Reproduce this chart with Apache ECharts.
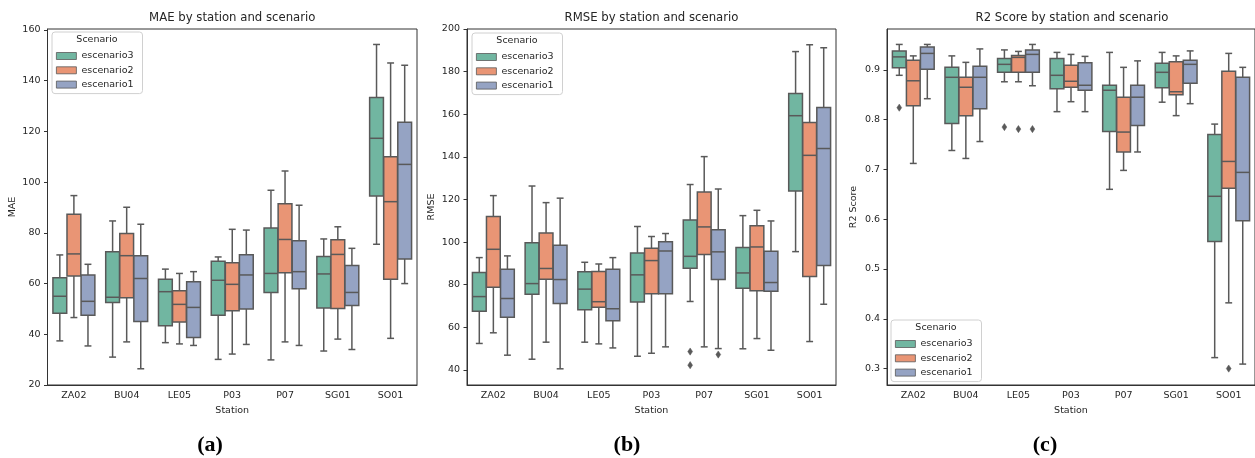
<!DOCTYPE html>
<html>
<head>
<meta charset="utf-8">
<script src="https://cdn.jsdelivr.net/npm/echarts@6/dist/echarts.min.js"></script>
<style>
  html, body { margin: 0; padding: 0; background: #fff; }
  #main { width: 1255px; height: 458px; }
</style>
</head>
<body>
<div id="main"></div>
<script>
// estaciones y escenarios
const stations = ['ZA02', 'BU04', 'LE05', 'P03', 'P07', 'SG01', 'SO01']
const scenarios = ['escenario3', 'escenario2', 'escenario1']

// [min whisker, Q1, mediana, Q3, max whisker] por estacion
const maeEsc3 = [
  [37.4, 48.3, 55.0, 62.3, 71.3],
  [31.0, 52.5, 54.6, 72.6, 84.7],
  [36.7, 43.4, 56.8, 61.7, 65.7],
  [30.1, 47.5, 61.3, 68.8, 70.5],
  [29.9, 56.5, 64.0, 81.9, 96.8],
  [33.4, 50.4, 63.8, 70.7, 77.6],
  [75.5, 94.5, 117.3, 133.4, 154.3]
]
const maeEsc2 = [
  [46.6, 63.0, 71.7, 87.3, 94.7],
  [37.0, 54.4, 71.0, 79.7, 90.1],
  [36.2, 44.8, 51.8, 57.2, 64.0],
  [32.2, 49.3, 59.7, 68.2, 81.4],
  [37.0, 64.3, 77.4, 91.5, 104.4],
  [38.1, 50.2, 71.5, 77.3, 82.4],
  [38.4, 61.7, 92.3, 110.0, 147.0]
]
const maeEsc1 = [
  [35.4, 47.5, 53.0, 63.4, 67.6],
  [26.4, 45.0, 62.0, 71.0, 83.4],
  [35.6, 38.7, 50.6, 60.7, 64.7],
  [36.0, 50.0, 63.4, 71.4, 81.1],
  [35.6, 58.0, 64.7, 76.9, 90.9],
  [34.0, 51.4, 56.5, 67.1, 73.9],
  [60.0, 69.7, 107.0, 123.6, 146.1]
]

const rmseEsc3 = [
  [52.4, 67.5, 74.4, 85.7, 92.7],
  [45.0, 75.5, 80.5, 99.7, 126.3],
  [53.0, 68.2, 77.9, 86.1, 90.5],
  [46.4, 71.9, 84.6, 94.9, 107.3],
  [72.1, 87.7, 93.3, 110.4, 127.0],
  [49.9, 78.3, 85.5, 97.4, 112.4],
  [95.5, 124.0, 159.3, 169.7, 189.4]
]
const rmseEsc2 = [
  [57.4, 78.8, 96.6, 112.0, 121.8],
  [53.0, 82.5, 87.6, 104.3, 118.5],
  [52.2, 69.4, 72.0, 86.2, 89.7],
  [47.8, 75.7, 91.3, 97.1, 102.6],
  [50.8, 94.1, 107.1, 123.5, 140.1],
  [54.7, 77.1, 97.7, 107.7, 114.9],
  [53.3, 83.8, 140.7, 156.1, 192.6]
]
const rmseEsc1 = [
  [46.9, 64.7, 73.5, 87.2, 93.5],
  [40.5, 71.1, 82.4, 98.5, 120.6],
  [50.3, 63.0, 68.7, 87.2, 92.7],
  [50.8, 75.7, 95.8, 100.1, 104.0],
  [50.0, 82.4, 95.4, 105.8, 124.9],
  [49.2, 76.9, 81.0, 95.7, 109.9],
  [70.8, 89.0, 143.9, 163.1, 191.2]
]

const r2Esc3 = [
  [0.889, 0.904, 0.926, 0.938, 0.951],
  [0.738, 0.792, 0.885, 0.905, 0.928],
  [0.876, 0.895, 0.911, 0.923, 0.940],
  [0.816, 0.862, 0.889, 0.923, 0.935],
  [0.660, 0.776, 0.859, 0.869, 0.935],
  [0.835, 0.864, 0.895, 0.913, 0.935],
  [0.322, 0.555, 0.646, 0.770, 0.791]
]
const r2Esc2 = [
  [0.712, 0.828, 0.878, 0.919, 0.928],
  [0.722, 0.808, 0.865, 0.885, 0.915],
  [0.876, 0.895, 0.925, 0.929, 0.937],
  [0.836, 0.865, 0.877, 0.909, 0.931],
  [0.698, 0.735, 0.775, 0.845, 0.905],
  [0.808, 0.850, 0.856, 0.916, 0.928],
  [0.432, 0.662, 0.716, 0.897, 0.933]
]
const r2Esc1 = [
  [0.842, 0.901, 0.933, 0.946, 0.951],
  [0.756, 0.822, 0.885, 0.907, 0.942],
  [0.868, 0.895, 0.931, 0.940, 0.951],
  [0.816, 0.859, 0.869, 0.914, 0.927],
  [0.735, 0.788, 0.845, 0.869, 0.918],
  [0.832, 0.873, 0.911, 0.919, 0.938],
  [0.309, 0.597, 0.694, 0.885, 0.905]
]

// outliers: [indice estacion, valor]
const maeOut3 = []
const maeOut2 = []
const maeOut1 = []
const rmseOut3 = [[4, 48.6], [4, 42.2]]
const rmseOut2 = []
const rmseOut1 = [[4, 47.2]]
const r2Out3 = [[0, 0.824], [2, 0.785]]
const r2Out2 = [[2, 0.781], [6, 0.300]]
const r2Out1 = [[2, 0.781]]

const colors = ['#71b6a1', '#e99575', '#95a3c3']
const gray = '#595959'
const font = 'DejaVu Sans'

const panels = [
  {
    title: 'MAE by station and scenario', yName: 'MAE', min: 20, max: 160.4, splitNumber: 7,
    boxes: [maeEsc3, maeEsc2, maeEsc1], outs: [maeOut3, maeOut2, maeOut1],
    grid: { left: 47.5, top: 29, width: 369.5, height: 356 }, nameGap: 30,
    showMin: true, showMax: false,
    legend: { left: 52, top: 32 }, label: 'a', labelX: 210
  },
  {
    title: 'RMSE by station and scenario', yName: 'RMSE', min: 32.9, max: 200, splitNumber: 8,
    boxes: [rmseEsc3, rmseEsc2, rmseEsc1], outs: [rmseOut3, rmseOut2, rmseOut1],
    grid: { left: 467, top: 29, width: 369, height: 356 }, nameGap: 30,
    showMin: false, showMax: true,
    legend: { left: 472, top: 33 }, label: 'b', labelX: 627
  },
  {
    title: 'R2 Score by station and scenario', yName: 'R2 Score', min: 0.267, max: 0.982, splitNumber: 7,
    boxes: [r2Esc3, r2Esc2, r2Esc1], outs: [r2Out3, r2Out2, r2Out1],
    grid: { left: 887, top: 29, width: 370, height: 356 }, nameGap: 28,
    showMin: false, showMax: false,
    legend: { left: 891, top: 320 }, label: 'c', labelX: 1045
  }
]

// caja estilo seaborn
function boxRender (hue) {
  return function (params, api) {
    const cat = api.value(0)
    const band = api.size([1, 0])[0]
    const step = band * 0.8 / 3
    const boxW = step * 0.98
    const cx = api.coord([cat, api.value(3)])[0] + (hue - 1) * step
    const y = [1, 2, 3, 4, 5].map(i => api.coord([cat, api.value(i)])[1])
    const cap = boxW / 4
    const line = { stroke: gray, lineWidth: 1.5 }
    return {
      type: 'group',
      children: [
        { type: 'line', shape: { x1: cx, y1: y[0], x2: cx, y2: y[1] }, style: line },
        { type: 'line', shape: { x1: cx, y1: y[3], x2: cx, y2: y[4] }, style: line },
        { type: 'line', shape: { x1: cx - cap, y1: y[0], x2: cx + cap, y2: y[0] }, style: line },
        { type: 'line', shape: { x1: cx - cap, y1: y[4], x2: cx + cap, y2: y[4] }, style: line },
        {
          type: 'rect',
          shape: { x: cx - boxW / 2, y: y[3], width: boxW, height: y[1] - y[3] },
          style: { fill: colors[hue], stroke: gray, lineWidth: 1.5 }
        },
        { type: 'line', shape: { x1: cx - boxW / 2, y1: y[2], x2: cx + boxW / 2, y2: y[2] }, style: line }
      ]
    }
  }
}

// outlier en forma de diamante
function outRender (hue) {
  return function (params, api) {
    const cat = api.value(0)
    const band = api.size([1, 0])[0]
    const step = band * 0.8 / 3
    const p = api.coord([cat, api.value(1)])
    const cx = p[0] + (hue - 1) * step
    const cy = p[1]
    return {
      type: 'polygon',
      shape: { points: [[cx, cy - 3.6], [cx + 2.4, cy], [cx, cy + 3.6], [cx - 2.4, cy]] },
      style: { fill: gray, stroke: gray, lineWidth: 0.5 }
    }
  }
}

const grid = []
const xAxis = []
const yAxis = []
const series = []
const legend = []
const title = []

panels.forEach((pn, p) => {
  grid.push(Object.assign({ show: true, borderColor: '#333', borderWidth: 1 }, pn.grid))
  const cx = pn.grid.left + pn.grid.width / 2
  xAxis.push({
    gridIndex: p,
    type: 'category',
    data: stations,
    name: 'Station',
    nameLocation: 'middle',
    nameGap: 18,
    nameTextStyle: { fontFamily: font, fontSize: 9.5, color: '#262626' },
    axisLine: { lineStyle: { color: '#333', width: 1 } },
    axisTick: { alignWithLabel: true, length: 3.5, lineStyle: { color: '#333' } },
    axisLabel: { fontFamily: font, fontSize: 9.5, color: '#262626', margin: 6 }
  })
  yAxis.push({
    gridIndex: p,
    type: 'value',
    min: pn.min,
    max: pn.max,
    splitNumber: pn.splitNumber,
    name: pn.yName,
    nameLocation: 'middle',
    nameGap: pn.nameGap,
    nameTextStyle: { fontFamily: font, fontSize: 9.5, color: '#262626' },
    splitLine: { show: false },
    axisLine: { show: true, lineStyle: { color: '#333', width: 1 } },
    axisTick: { show: true, length: 3.5, lineStyle: { color: '#333' } },
    axisLabel: {
      fontFamily: font, fontSize: 9.5, color: '#262626', margin: 7,
      showMinLabel: pn.showMin, showMaxLabel: pn.showMax
    }
  })
  scenarios.forEach((name, h) => {
    series.push({
      type: 'custom',
      name,
      xAxisIndex: p,
      yAxisIndex: p,
      itemStyle: { color: colors[h] },
      encode: { x: 0, y: [1, 2, 3, 4, 5] },
      renderItem: boxRender(h),
      data: pn.boxes[h].map((v, i) => [i].concat(v))
    })
    if (pn.outs[h].length) {
      series.push({
        type: 'custom',
        name,
        xAxisIndex: p,
        yAxisIndex: p,
        itemStyle: { color: colors[h] },
        encode: { x: 0, y: 1 },
        renderItem: outRender(h),
        data: pn.outs[h]
      })
    }
  })
  legend.push({
    orient: 'vertical',
    left: pn.legend.left,
    top: pn.legend.top,
    padding: [18, 9, 3, 4],
    itemWidth: 20,
    itemHeight: 7,
    itemGap: 2.3,
    selectedMode: false,
    backgroundColor: 'rgba(255,255,255,0.85)',
    borderColor: '#d0d0d0',
    borderWidth: 1,
    borderRadius: 3,
    textStyle: { fontFamily: font, fontSize: 9.5, color: '#262626', lineHeight: 12 },
    data: scenarios.map((name, h) => ({
      name,
      icon: 'rect',
      itemStyle: { color: colors[h], borderColor: gray, borderWidth: 0.8 }
    }))
  })
  title.push({
    text: pn.title,
    left: cx,
    top: 12,
    textAlign: 'center',
    padding: 0,
    textStyle: { fontFamily: font, fontSize: 11.7, fontWeight: 'normal', color: '#262626' }
  })
  title.push({
    text: 'Scenario',
    left: pn.legend.left + 45,
    top: pn.legend.top + 3,
    textAlign: 'center',
    padding: 0,
    textStyle: { fontFamily: font, fontSize: 9.5, fontWeight: 'normal', color: '#262626' }
  })
  title.push({
    text: '{p|(}{b|' + pn.label + '}{p|)}',
    left: pn.labelX,
    top: 434,
    textAlign: 'center',
    padding: 0,
    textStyle: {
      rich: {
        p: { fontFamily: 'Liberation Serif', fontSize: 22, color: '#000' },
        b: { fontFamily: 'Liberation Serif', fontSize: 22, fontWeight: 'bold', color: '#000' }
      }
    }
  })
})

const myChart = echarts.init(document.getElementById('main'))
myChart.setOption({
  animation: false,
  title,
  legend,
  grid,
  xAxis,
  yAxis,
  series
})
</script>
</body>
</html>
